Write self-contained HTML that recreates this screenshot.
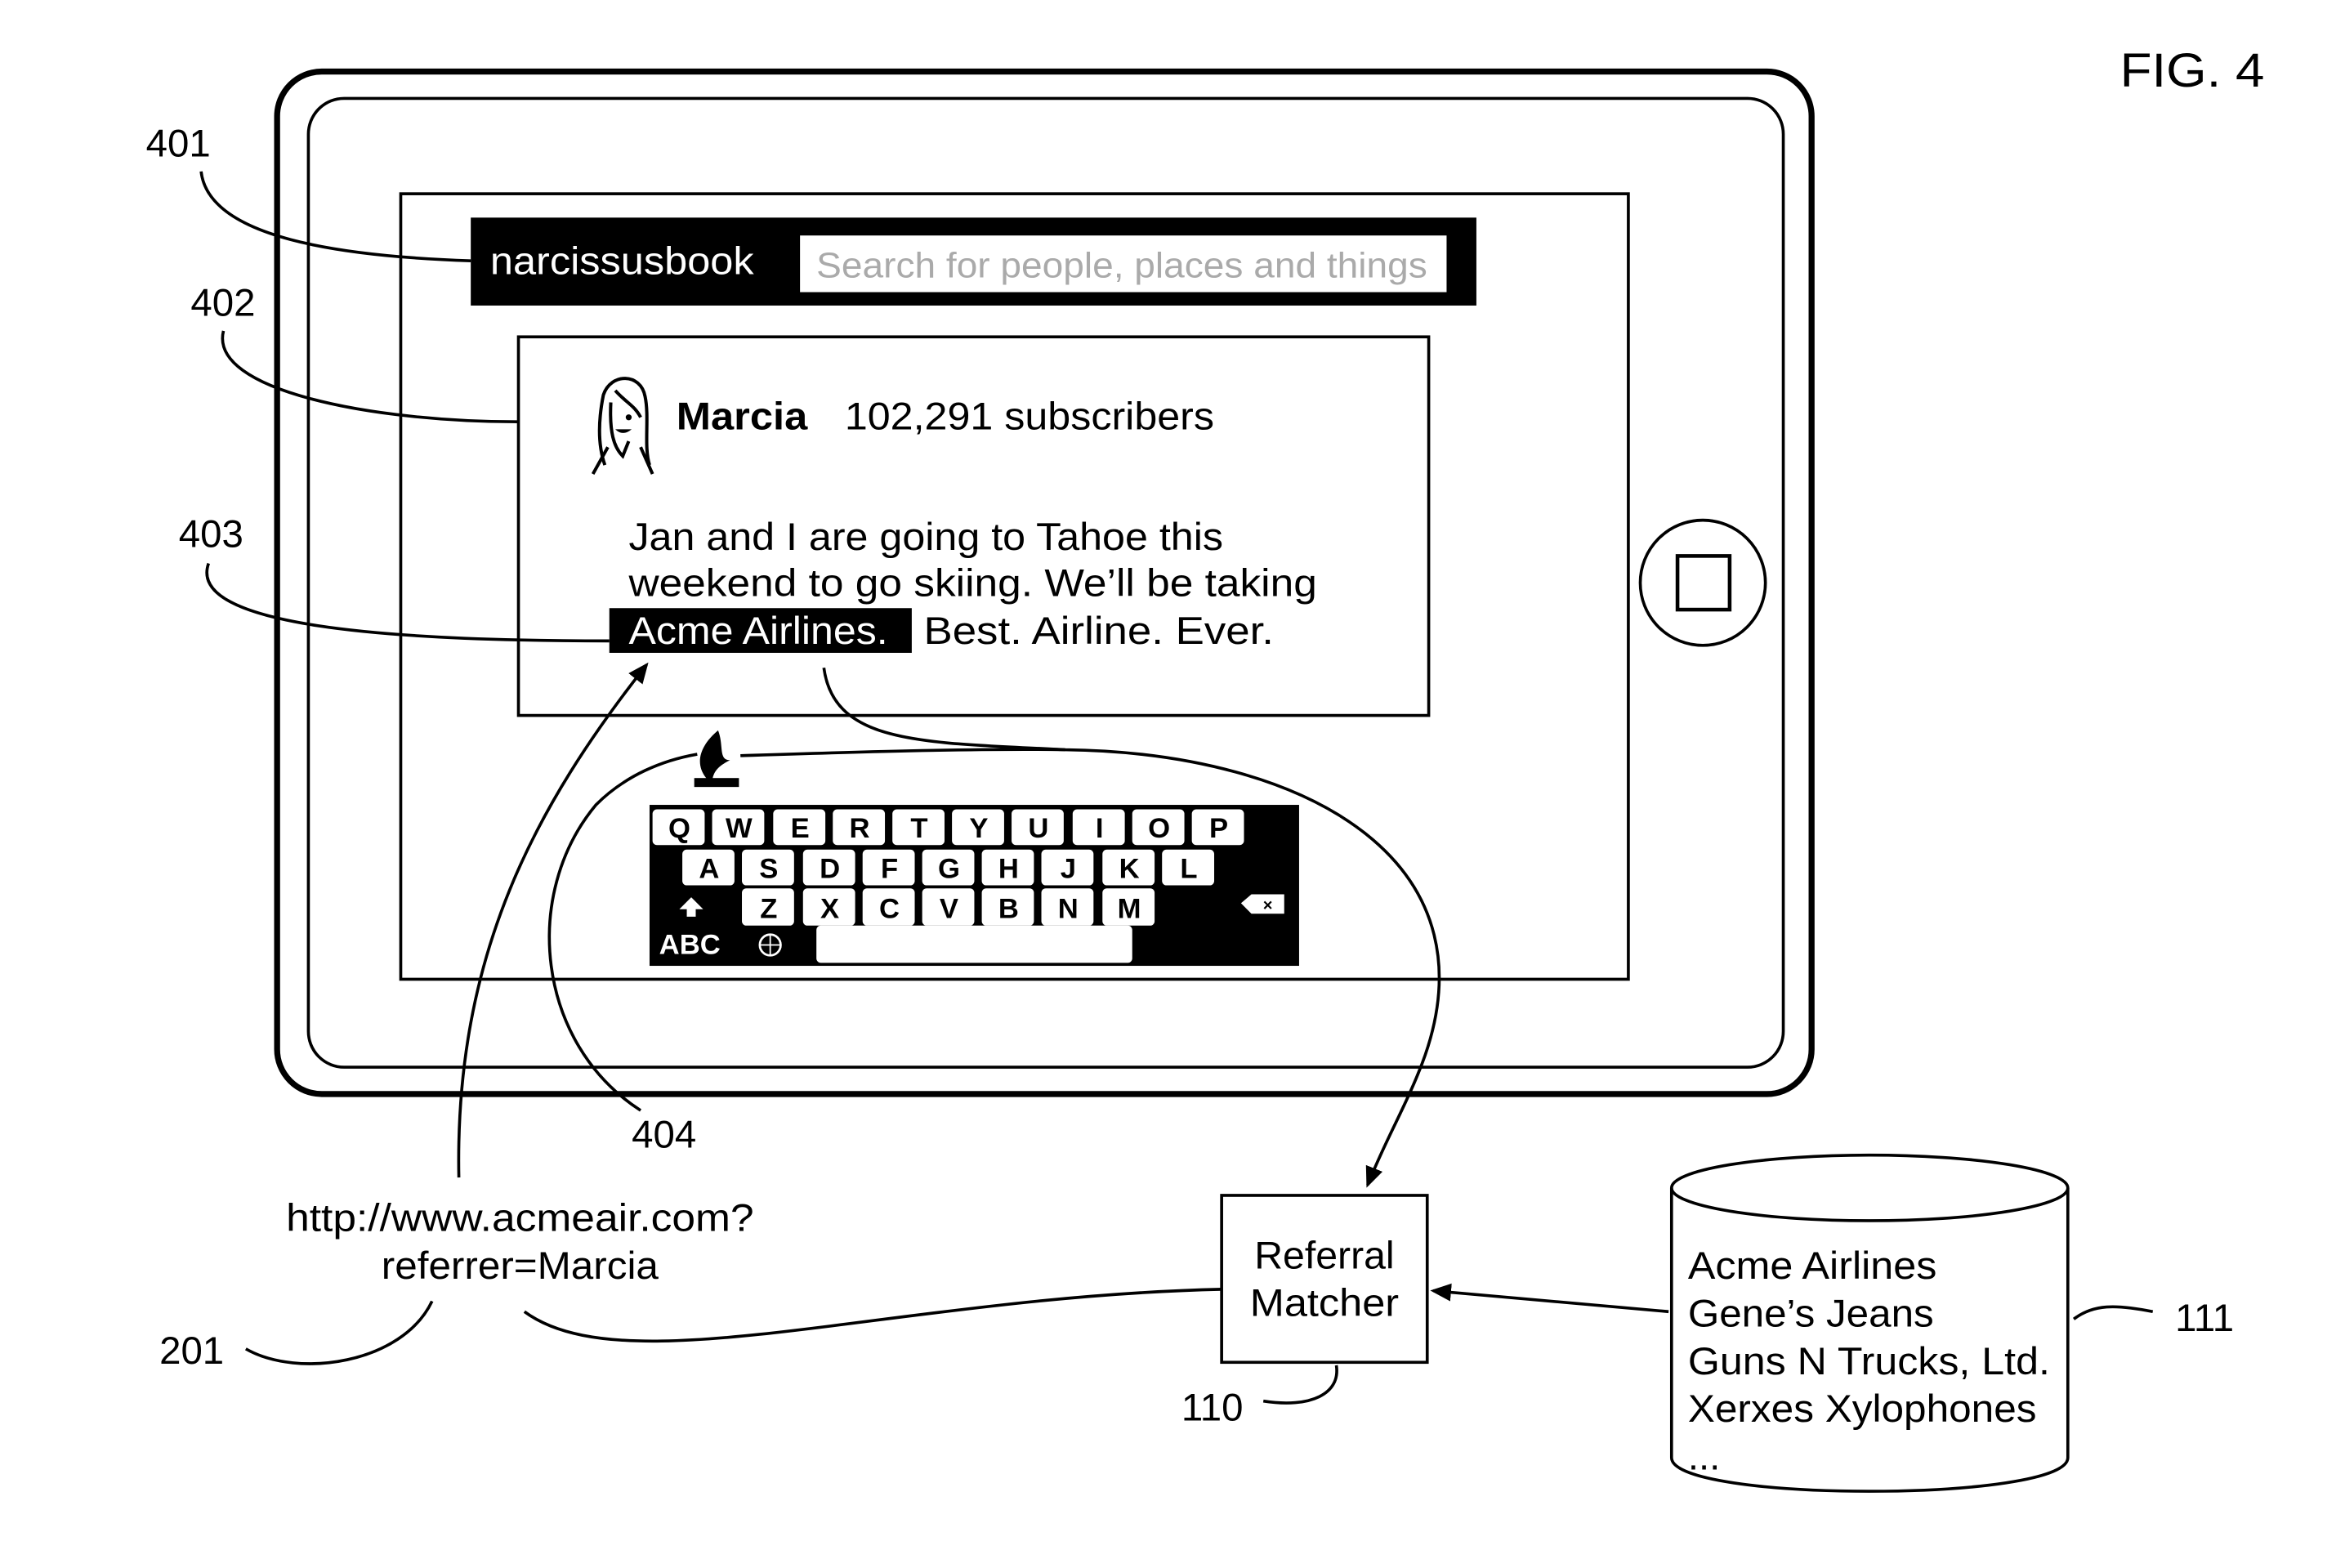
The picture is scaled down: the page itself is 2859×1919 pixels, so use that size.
<!DOCTYPE html>
<html><head><meta charset="utf-8"><style>
html,body{margin:0;padding:0;background:#fff;}
svg{display:block;}
text{font-family:"Liberation Sans",Arial,sans-serif;fill:#000;}
.k text{font-weight:bold;font-size:19px;text-anchor:middle;}
</style></head><body>
<svg width="2859" height="1919" viewBox="0 0 1568 1052" preserveAspectRatio="none" xmlns="http://www.w3.org/2000/svg">
<defs>
<marker id="ah" markerWidth="14" markerHeight="12" refX="12" refY="6" orient="auto" markerUnits="userSpaceOnUse">
<path d="M0,0 L14,6 L0,12 Z" fill="#000"/>
</marker>
</defs>
<rect width="1568" height="1052" fill="#fff"/>
<text x="1423" y="58" font-size="32" textLength="97" lengthAdjust="spacingAndGlyphs">FIG. 4</text>

<!-- tablet -->
<rect x="186" y="48" width="1030" height="686" rx="30" fill="none" stroke="#000" stroke-width="4"/>
<rect x="207" y="66" width="990" height="650" rx="24" fill="none" stroke="#000" stroke-width="2"/>
<rect x="269" y="130" width="824" height="527" fill="none" stroke="#000" stroke-width="2"/>
<circle cx="1143" cy="391" r="42" fill="none" stroke="#000" stroke-width="2"/>
<rect x="1126" y="373" width="35" height="36" fill="none" stroke="#000" stroke-width="2.5"/>

<!-- search bar -->
<rect x="316" y="146" width="675" height="59" fill="#000"/>
<text x="329" y="184" font-size="26" style="fill:#fff" textLength="177" lengthAdjust="spacingAndGlyphs">narcissusbook</text>
<rect x="537" y="158" width="434" height="38" fill="#fff"/>
<text x="548" y="186" font-size="24" style="fill:#aaa" textLength="410" lengthAdjust="spacingAndGlyphs">Search for people, places and things</text>

<!-- post -->
<rect x="348" y="226" width="611" height="254" fill="none" stroke="#000" stroke-width="2"/>
<g fill="none" stroke="#000" stroke-width="2.2">
<path d="M406,312 C400,295 403,275 405,265 C410,250 430,250 433,266 C436,280 432,300 436,312"/>
<path d="M413,262 C420,270 426,272 430,280"/>
<path d="M410,270 C409,290 412,300 418,306 L422,296"/>
<path d="M398,318 L408,300 M438,318 L430,300"/>
</g>
<circle cx="422" cy="280" r="2" fill="#000"/>
<path d="M413,288 Q418,293 424,288" fill="#000"/>
<text x="454" y="288" font-size="26" font-weight="bold" textLength="88" lengthAdjust="spacingAndGlyphs">Marcia</text>
<text x="567" y="288" font-size="26" textLength="248" lengthAdjust="spacingAndGlyphs">102,291 subscribers</text>
<text x="422" y="369" font-size="26" textLength="399" lengthAdjust="spacingAndGlyphs">Jan and I are going to Tahoe this</text>
<text x="422" y="400" font-size="26" textLength="462" lengthAdjust="spacingAndGlyphs">weekend to go skiing.  We’ll be taking</text>
<rect x="409" y="408" width="203" height="30" fill="#000"/>
<text x="422" y="432" font-size="26" style="fill:#fff" textLength="174" lengthAdjust="spacingAndGlyphs">Acme Airlines.</text>
<text x="620" y="432" font-size="26" textLength="235" lengthAdjust="spacingAndGlyphs">Best.  Airline.  Ever.</text>

<!-- flame -->
<path d="M482,490 C470,500 466,512 474,522 L478,526 C478,518 482,514 490,510 C482,510 486,500 482,490 Z" fill="#000"/>
<rect x="466" y="522" width="30" height="6" fill="#000"/>

<!-- keyboard -->
<rect x="436" y="540" width="436" height="108" fill="#000"/>
<g class="k">
<g fill="#fff">
<rect x="438" y="543" width="35" height="24" rx="3"/><rect x="478" y="543" width="35" height="24" rx="3"/><rect x="519" y="543" width="35" height="24" rx="3"/><rect x="559" y="543" width="35" height="24" rx="3"/><rect x="599" y="543" width="35" height="24" rx="3"/><rect x="639" y="543" width="35" height="24" rx="3"/><rect x="679" y="543" width="35" height="24" rx="3"/><rect x="720" y="543" width="35" height="24" rx="3"/><rect x="760" y="543" width="35" height="24" rx="3"/><rect x="800" y="543" width="35" height="24" rx="3"/>
<rect x="458" y="570" width="35" height="24" rx="3"/><rect x="498" y="570" width="35" height="24" rx="3"/><rect x="539" y="570" width="35" height="24" rx="3"/><rect x="579" y="570" width="35" height="24" rx="3"/><rect x="619" y="570" width="35" height="24" rx="3"/><rect x="659" y="570" width="35" height="24" rx="3"/><rect x="699" y="570" width="35" height="24" rx="3"/><rect x="740" y="570" width="35" height="24" rx="3"/><rect x="780" y="570" width="35" height="24" rx="3"/>
<rect x="498" y="596" width="35" height="25" rx="3"/><rect x="539" y="596" width="35" height="25" rx="3"/><rect x="579" y="596" width="35" height="25" rx="3"/><rect x="619" y="596" width="35" height="25" rx="3"/><rect x="659" y="596" width="35" height="25" rx="3"/><rect x="699" y="596" width="35" height="25" rx="3"/><rect x="740" y="596" width="35" height="25" rx="3"/>
<rect x="548" y="621" width="212" height="25" rx="3"/>
</g>
<text x="456" y="562">Q</text><text x="496" y="562">W</text><text x="537" y="562">E</text><text x="577" y="562">R</text><text x="617" y="562">T</text><text x="657" y="562">Y</text><text x="697" y="562">U</text><text x="738" y="562">I</text><text x="778" y="562">O</text><text x="818" y="562">P</text>
<text x="476" y="589">A</text><text x="516" y="589">S</text><text x="557" y="589">D</text><text x="597" y="589">F</text><text x="637" y="589">G</text><text x="677" y="589">H</text><text x="717" y="589">J</text><text x="758" y="589">K</text><text x="798" y="589">L</text>
<text x="516" y="616">Z</text><text x="557" y="616">X</text><text x="597" y="616">C</text><text x="637" y="616">V</text><text x="677" y="616">B</text><text x="717" y="616">N</text><text x="758" y="616">M</text>
<text x="463" y="640" font-size="11" style="fill:#fff">ABC</text>
</g>
<path d="M456,610 L464,602 L472,610 L467,610 L467,615 L461,615 L461,610 Z" fill="#fff"/>
<path d="M833,606 L840,600 L862,600 L862,613 L840,613 Z" fill="#fff"/>
<text x="851" y="611" font-size="11" font-weight="bold" text-anchor="middle">×</text>
<circle cx="517" cy="634" r="7" fill="none" stroke="#fff" stroke-width="1.5"/>
<path d="M510,634 H524 M517,627 V641" stroke="#fff" stroke-width="1"/>

<!-- leaders -->
<g fill="none" stroke="#000" stroke-width="2">
<path d="M135,115 C140,160 230,172 316,175"/>
<path d="M150,222 C140,262 250,283 348,283"/>
<path d="M140,378 C125,420 260,430 409,430"/>
<path d="M308,790 C305,640 360,540 434,446" marker-end="url(#ah)"/>
<path d="M430,745 C360,700 350,600 400,540 C420,520 445,510 468,506"/>
<path d="M497,507 C560,505 650,502 715,503"/>
<path d="M553,448 C560,500 620,498 715,503 C880,505 1010,580 952,720 C942,745 930,765 918,795" marker-end="url(#ah)"/>
<path d="M165,905 C200,925 270,915 290,873"/>
<path d="M352,880 C420,930 600,870 820,865"/>
<path d="M1120,880 L962,866" marker-end="url(#ah)"/>
<path d="M848,940 C880,945 900,935 897,916"/>
<path d="M1392,885 C1405,875 1420,875 1445,880"/>
</g>
<text x="98" y="105" font-size="26">401</text>
<text x="128" y="212" font-size="26">402</text>
<text x="120" y="367" font-size="26">403</text>
<text x="424" y="770" font-size="26">404</text>
<text x="107" y="915" font-size="26">201</text>
<text x="793" y="953" font-size="26">110</text>
<text x="1460" y="893" font-size="26">111</text>

<text x="349" y="826" font-size="26" text-anchor="middle" textLength="314" lengthAdjust="spacingAndGlyphs">http://www.acmeair.com?</text>
<text x="349" y="858" font-size="26" text-anchor="middle" textLength="186" lengthAdjust="spacingAndGlyphs">referrer=Marcia</text>

<rect x="820" y="802" width="138" height="112" fill="none" stroke="#000" stroke-width="2"/>
<text x="889" y="851" font-size="26" text-anchor="middle" textLength="94" lengthAdjust="spacingAndGlyphs">Referral</text>
<text x="889" y="883" font-size="26" text-anchor="middle" textLength="100" lengthAdjust="spacingAndGlyphs">Matcher</text>

<!-- cylinder -->
<g fill="none" stroke="#000" stroke-width="2">
<ellipse cx="1255" cy="797" rx="133" ry="22"/>
<path d="M1122,797 V978 C1122,1008 1388,1008 1388,978 V797"/>
</g>
<text x="1133" y="858" font-size="26" textLength="167" lengthAdjust="spacingAndGlyphs">Acme Airlines</text>
<text x="1133" y="890" font-size="26" textLength="165" lengthAdjust="spacingAndGlyphs">Gene’s Jeans</text>
<text x="1133" y="922" font-size="26" textLength="243" lengthAdjust="spacingAndGlyphs">Guns N Trucks, Ltd.</text>
<text x="1133" y="954" font-size="26" textLength="234" lengthAdjust="spacingAndGlyphs">Xerxes Xylophones</text>
<text x="1133" y="986" font-size="26">...</text>
</svg>
</body></html>
